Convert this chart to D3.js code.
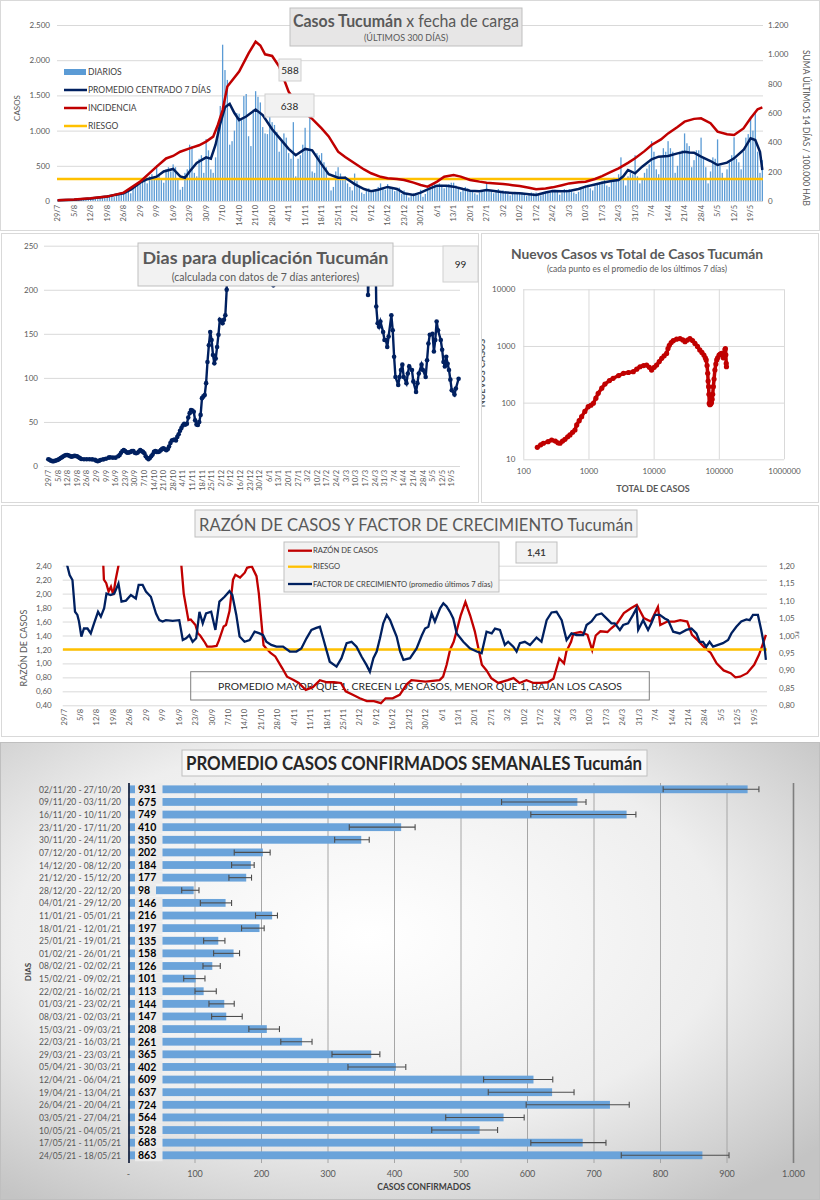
<!DOCTYPE html>
<html>
<head>
<meta charset="utf-8">
<script src="https://cdn.jsdelivr.net/npm/d3@7"></script>
<style>
  body { margin: 0; background: #fff; }
  svg text { font-family: Lato, "Open Sans", sans-serif; }
</style>
</head>
<body>
<svg id="chart" width="820" height="1200"></svg>
<script>
// ---------- data ----------
const nDays = 300; // 29/7/2020 .. 24/5/2021
const weekTicks = ['29/7','5/8','12/8','19/8','26/8','2/9','9/9','16/9','23/9','30/9','7/10','14/10','21/10','28/10',
  '4/11','11/11','18/11','25/11','2/12','9/12','16/12','23/12','30/12','6/1','13/1','20/1','27/1','3/2','10/2','17/2',
  '24/2','3/3','10/3','17/3','24/3','31/3','7/4','14/4','21/4','28/4','5/5','12/5','19/5'];

// daily cases (one value per day)
const dailyCases = [
  12,15,18,10,8,20,22, 25,30,20,15,28,35,30, 40,45,35,25,50,55,48, 60,75,80,55,70,90,85,
  100,120,150,110,180,230,250, 280,300,330,250,350,380,340, 510,380,300,260,450,480,420,
  520,480,300,160,200,400,450, 800,780,400,350,600,650,400, 880,720,450,400,620,1100,1350,
  2220,1860,1720,800,850,1000,1250, 1240,1150,1490,1520,920,780,1300, 1560,1480,1400,1050,960,950,1200,
  1120,1080,980,700,850,960,900, 680,600,1120,350,600,650,800, 1040,720,1200,420,400,680,650,
  680,550,480,300,150,200,420, 480,390,300,350,250,200,150, 390,280,200,120,100,160,180,
  120,150,170,200,250,180,160, 240,200,180,140,160,190,100, 150,90,50,80,110,100,90,
  160,60,100,150,200,230,250, 200,250,230,180,220,240,260, 260,220,180,130,160,200,180,
  130,150,110,90,120,150,140, 250,160,130,110,150,170,140, 150,140,100,80,110,130,120,
  110,120,90,70,100,120,110, 120,100,80,110,130,140,120, 150,160,140,90,120,170,160,
  170,150,120,100,130,180,190, 220,230,180,150,210,250,240, 280,300,220,200,310,330,300,
  380,620,300,220,350,400,380, 650,350,250,300,400,460,520, 850,700,450,380,620,750,700,
  850,750,700,400,500,700,720, 960,820,780,480,580,720,720, 900,600,480,250,420,620,600,
  875,500,400,300,450,550,650, 905,600,550,450,700,900,950, 1190,1000,1255,700,400,580
];
// 7-day centred average [day, cases]
const avg7 = [[0,10],[7,18],[14,35],[21,65],[28,110],[31,160],[35,260],[38,310],[42,345],[45,420],[49,455],[52,350],
  [54,330],[56,420],[59,540],[63,620],[65,600],[67,800],[69,1100],[71,1330],[73,1380],[75,1250],[77,1150],[80,1200],
  [84,1300],[87,1220],[91,1020],[94,900],[98,740],[101,650],[105,740],[108,720],[112,520],[115,380],[119,330],[122,330],
  [126,240],[130,170],[133,140],[136,160],[140,200],[144,170],[147,110],[151,85],[154,118],[158,180],[161,218],[165,215],
  [168,204],[172,170],[175,147],[179,140],[182,156],[186,140],[189,123],[193,115],[196,109],[200,95],[203,85],[207,120],
  [210,142],[214,140],[217,142],[221,170],[224,204],[228,235],[231,260],[235,285],[238,298],[240,350],[242,440],[245,393],
  [248,488],[252,592],[255,630],[259,640],[263,677],[266,700],[268,690],[270,686],[273,630],[277,568],[280,511],[284,545],
  [287,606],[291,724],[294,890],[296,866],[298,700],[299,440]];
// incidence, sum of last 14 days per 100.000 inhabitants [day, value]
const incidence = [[0,5],[7,10],[14,18],[21,30],[28,57],[35,132],[42,234],[46,290],[49,307],[52,336],[56,359],[60,380],
  [63,405],[66,439],[68,520],[70,620],[72,780],[77,882],[81,1007],[84,1086],[86,1060],[88,1000],[91,989],[94,916],[98,745],
  [101,677],[105,598],[108,560],[112,495],[115,440],[119,336],[122,300],[126,257],[130,215],[133,189],[137,165],[140,155],
  [144,150],[147,143],[151,125],[154,109],[157,98],[161,132],[164,166],[168,177],[171,166],[175,143],[179,132],[182,125],
  [186,120],[189,116],[193,108],[196,102],[200,90],[203,80],[207,86],[210,93],[214,108],[217,120],[221,128],[224,132],
  [228,150],[231,170],[235,200],[238,223],[242,260],[245,291],[249,340],[252,382],[256,420],[259,461],[263,505],[266,541],
  [270,560],[273,564],[277,530],[280,473],[284,455],[287,450],[291,495],[294,564],[297,625],[299,638]];
const riesgoIncidence = 150;

// doubling time in days [day, value]
const doubling = [[0,7.6],[1,7],[2,6],[3,5.5],[4,5.5],[5,6],[6,6.5],[7,7],[8,8],[9,9],[10,10],[11,11],[12,12],[13,12.5],
  [14,12.5],[15,12],[16,11],[17,10.6],[18,11],[19,11.5],[20,11.3],[21,11],[22,10],[23,9],[24,8],[26,7.6],[28,7.6],[30,7.6],
  [32,7.5],[34,7],[35,6],[36,5.5],[37,6],[38,6.8],[40,7.5],[42,8.3],[44,9.5],[45,9.8],[47,9.5],[49,9.5],[51,11],[52,12.5],
  [53,15],[54,17],[55,18],[56,17],[57,15.5],[58,15],[59,15.5],[60,16],[61,17],[62,17],[63,15],[64,14.4],[65,15],[66,16.5],
  [67,18],[68,17],[69,16],[70,14.4],[71,11],[72,9],[73,7.6],[74,9],[75,11],[76,13],[77,16],[78,17],[79,16],[80,16],
  [81,16.5],[82,18],[83,19.5],[84,20],[85,19],[86,18],[87,19],[88,22],[89,26],[90,29],[91,29.5],[92,30],[93,29],[94,33],
  [95,36],[96,40],[97,43],[98,46],[99,48],[100,47],[101,48],[102,55],[103,60],[104,63.5],[105,63],[106,61.6],[107,52],
  [108,47],[109,46.5],[110,50],[111,58],[112,77],[113,79],[114,80.6],[115,94],[116,118],[117,137],[118,152],[119,143],
  [120,126],[121,116.5],[122,122],[123,135],[124,149],[125,166],[126,164],[127,162],[128,166],[129,171],[130,200],
  [131,300],[163,300],[164,205],[165,300],[232,300],[233,194],[236,300],[238,300],[239,181],[240,162],[241,158],[242,164],
  [244,152],[245,143],[246,143],[247,135],[248,147],[250,171],[251,154],[252,124],[253,101],[255,92],[256,101],[257,109],
  [258,115],[259,101],[261,94],[262,105],[263,113],[265,109],[266,96],[268,84],[269,94],[270,105],[272,115],[273,109],
  [275,101],[276,120],[277,139],[278,149],[280,150],[281,130],[282,143],[283,164],[284,154],[286,143],[287,132],[288,118],
  [289,113],[290,124],[291,116],[292,109],[293,98],[294,86],[296,81],[297,88],[299,99]];

// new cases (7-day mean) vs total cases
const totalCases = [164,185,203,240,272,310,340,366,400,436,480,520,570,620,660,720,785,880,990,1090,1186,1300,1410,
  1600,1790,2100,2390,2900,3440,4100,4870,5500,6180,7000,7800,8600,9300,10200,11100,12200,13300,14500,15800,16600,
  17400,18600,20000,22500,25400,28000,30300,33000,36000,39500,43000,47000,51000,55000,59000,62000,64000,66000,67500,
  68500,69700,70500,71300,73000,75000,77000,79000,80500,82400,84500,87000,90000,92800,96000,100800,105000,110000,
  114000,117000,120000,124000,126000,128000,130000,131000];
const newCases = [16.3,18,19.2,20.5,21.9,21,19.5,19.2,21,22.5,25,26.9,30,32.9,40.4,48,56.6,70,85,90,97.6,120,146,
  180,213,245,269,300,329,340,352,390,430,450,460,420,376,420,460,530,605,670,740,900,
  1030,1150,1240,1320,1350,1280,1190,1270,1350,1250,1110,980,850,770,690,620,567,450,330,
  240,191,140,97,92,95,100,115,140,191,260,375,480,567,620,690,720,740,
  700,617,700,850,900,700,492,430];

// case ratio (left axis) and growth factor (right axis) [day, value]
const razon = [[0,3],[16,3],[17,2.2],[18,2.15],[19,2.03],[20,2.1],[21,1.98],[22,2.2],[23.5,2.45],[25,3],[49,3],[50,2.4],
  [51,2.0],[53,1.62],[54,1.63],[56,1.55],[57,1.43],[58,1.4],[60,1.3],[61,1.24],[63,1.24],[65,1.25],[66,1.33],[68,1.53],
  [69,1.55],[70.5,1.75],[72,2.2],[73,2.27],[75,2.23],[77,2.3],[78,2.37],[80,2.39],[82,2.25],[83,2.0],[85,1.26],[86,1.22],
  [88,1.15],[90,1.1],[93,0.93],[95,0.81],[98,0.76],[100,0.72],[103,0.62],[106,0.66],[109,0.76],[112,0.73],[115,0.73],
  [118,0.72],[120,0.6],[123,0.55],[126,0.5],[129,0.46],[132,0.46],[135,0.43],[137,0.5],[140,0.5],[143,0.55],[146,0.7],
  [148,0.76],[154,0.74],[160,0.76],[161.5,0.81],[163,0.98],[164.5,1.2],[166,1.31],[167,1.43],[169,1.69],[171,1.88],
  [173,1.69],[175,1.46],[176.5,1.22],[178,0.98],[180,0.9],[182,0.79],[185,0.72],[189,0.76],[191.5,0.79],[194,0.72],
  [197,0.76],[200,0.72],[203,0.72],[206,0.73],[208.5,0.78],[211,1.07],[213,1.0],[214,1.17],[216,1.31],[217,1.43],
  [220,1.45],[223,1.41],[225,1.19],[226.5,1.4],[228.5,1.46],[231.5,1.45],[233,1.5],[235.5,1.57],[238.5,1.72],
  [241.5,1.79],[244,1.84],[247,1.65],[250,1.6],[253,1.81],[254,1.55],[257,1.6],[260,1.6],[262.5,1.62],[265.5,1.6],
  [267.5,1.41],[270,1.33],[272.5,1.24],[275.5,1.15],[278,1.0],[281,0.9],[284,0.86],[286,0.8],[288,0.81],[291,0.86],
  [294,0.98],[296,1.12],[297.5,1.26],[299,1.41]];
const factor = [[0,1.25],[1.4,1.2],[2.4,1.173],[3.6,1.159],[4.7,1.068],[5.7,1.059],[6.4,1.04],[7.4,0.997],[8.5,1.02],
  [10,1.02],[11.4,1.006],[12.8,1.035],[14.5,1.068],[15.7,1.054],[17.1,1.078],[18.1,1.12],[19.9,1.116],[21.4,1.12],
  [23.2,1.149],[24.5,1.097],[26.4,1.1],[28.5,1.116],[30.6,1.106],[31.8,1.145],[33.5,1.145],[34.9,1.126],[37,1.111],
  [39.2,1.063],[40.6,1.044],[42,1.04],[43.4,1.044],[46.3,1.042],[49.1,1.044],[50.6,0.987],[52,0.992],[53.4,1.001],
  [54.8,0.982],[56.3,0.992],[57.7,1.068],[59.1,1.035],[60.5,1.063],[62.7,1.068],[64.5,1.016],[66.2,1.097],[68.4,1.111],
  [70.5,1.127],[71.7,1.116],[73.4,1.059],[74.8,0.997],[76.9,0.982],[79.1,0.987],[81.2,1.011],[83.3,1.006],[84.8,1.001],
  [86.2,0.982],[88.3,0.973],[90.5,0.968],[93.3,0.968],[96.2,0.954],[99,0.954],[101.1,0.963],[103.3,0.992],[105.4,1.016],
  [107.5,1.022],[109,1.025],[110.4,0.992],[111.8,0.958],[113.2,0.925],[116.1,0.911],[118.2,0.935],[120.4,0.978],
  [122.5,0.982],[124.6,0.968],[126.8,0.939],[128.9,0.915],[130.3,0.896],[131.8,0.935],[133.2,0.954],[134.6,0.992],
  [136,1.035],[137.5,1.059],[138.9,1.044],[140.3,1.02],[141.7,0.997],[143.2,0.954],[144.6,0.93],[147.4,0.935],
  [150.2,0.963],[152.4,1.0],[153.8,1.02],[155.2,1.025],[156.6,1.063],[158,1.04],[160.2,1.078],[161.6,1.092],[163,1.083],
  [164.4,1.068],[165.8,1.049],[167.3,1.006],[170.1,0.982],[172.9,0.963],[175.8,0.954],[177.9,0.949],[180,1.011],
  [182.2,1.006],[183.6,1.02],[185.7,1.016],[187.8,0.973],[189.2,0.982],[191.4,0.968],[192.8,0.954],[194.2,0.978],
  [196.3,0.982],[198.5,0.973],[201.3,0.994],[203.4,0.982],[205.6,1.044],[207.7,1.066],[209.8,1.068],[212,1.044],
  [214.1,0.987],[216.2,1.006],[218.3,1.001],[221.2,1.001],[222.6,1.03],[224.7,1.04],[226.8,1.059],[229,1.063],
  [231.1,1.049],[233.2,1.035],[234.6,1.035],[236.8,1.016],[238.2,1.03],[240.3,1.035],[242.4,1.059],[243.9,1.078],
  [244.6,1.016],[246.7,1.044],[248.8,1.016],[250.2,1.035],[251.7,1.059],[253.8,1.059],[255.9,1.049],[257.3,1.044],
  [259.5,1.011],[262.3,1.006],[265.1,1.016],[267.3,1.02],[269.4,1.006],[270.8,0.982],[272.2,0.982],[273.6,0.968],
  [275,0.982],[276.5,0.968],[278.6,0.973],[280.7,0.978],[282.9,0.987],[284.3,1.006],[286.4,1.025],[288.5,1.04],
  [290.7,1.046],[292.1,1.044],[293.5,1.059],[295.6,1.059],[297,1.016],[298.5,0.963],[299,0.93]];
const riesgoRazon = 1.2;

// weekly mean of confirmed cases
const weeks = ['02/11/20 - 27/10/20','09/11/20 - 03/11/20','16/11/20 - 10/11/20','23/11/20 - 17/11/20','30/11/20 - 24/11/20',
  '07/12/20 - 01/12/20','14/12/20 - 08/12/20','21/12/20 - 15/12/20','28/12/20 - 22/12/20','04/01/21 - 29/12/20',
  '11/01/21 - 05/01/21','18/01/21 - 12/01/21','25/01/21 - 19/01/21','01/02/21 - 26/01/21','08/02/21 - 02/02/21',
  '15/02/21 - 09/02/21','22/02/21 - 16/02/21','01/03/21 - 23/02/21','08/03/21 - 02/03/21','15/03/21 - 09/03/21',
  '22/03/21 - 16/03/21','29/03/21 - 23/03/21','05/04/21 - 30/03/21','12/04/21 - 06/04/21','19/04/21 - 13/04/21',
  '26/04/21 - 20/04/21','03/05/21 - 27/04/21','10/05/21 - 04/05/21','17/05/21 - 11/05/21','24/05/21 - 18/05/21'];
const weekMean = [931,675,749,410,350,202,184,177,98,146,216,197,135,158,126,101,113,144,147,208,261,365,402,609,637,724,564,528,683,863];
const weekLow  = [804,561,605,332,310,159,155,151,80,108,191,170,113,128,112,83,100,121,125,181,229,306,330,534,541,598,477,456,605,741];
const weekHigh = [948,688,763,431,362,213,189,185,106,155,224,204,145,167,138,115,132,159,171,227,276,378,417,638,670,753,595,555,718,903];

// ---------- helpers ----------
const svg = d3.select('#chart');
const es = d3.formatLocale({ decimal: ',', thousands: '.', grouping: [3], currency: ['$', ''] });
const fInt = es.format(',');
const fDec = es.format('.2f');
const GRID = '#d9d9d9', TXT = '#595959';
const NAVY = '#002060', RED = '#c00000', GOLD = '#ffc000', BLUE = '#5b9bd5';
const FONT = 'Lato, "Open Sans", sans-serif';
const defs = svg.append('defs');

function frame(x, y, w, h) {
  svg.append('rect').attr('x', x).attr('y', y).attr('width', w).attr('height', h)
    .attr('fill', '#fff').attr('stroke', '#d9d9d9');
}
function text(g, x, y, s, size, opts = {}) {
  const t = g.append('text').attr('x', x).attr('y', y).text(s)
    .attr('font-size', size).attr('fill', opts.fill || TXT)
    .attr('text-anchor', opts.anchor || 'start')
    .attr('font-weight', opts.weight || 'normal');
  if (opts.len) t.attr('textLength', opts.len).attr('lengthAdjust', 'spacingAndGlyphs');
  return t;
}
function vtext(g, x, y, s, size, rot, opts = {}) {
  return g.append('text').attr('transform', `translate(${x},${y}) rotate(${rot})`).text(s)
    .attr('font-size', size).attr('fill', opts.fill || TXT)
    .attr('text-anchor', opts.anchor || 'middle')
    .attr('font-weight', opts.weight || 'normal')
    .attr('dy', opts.dy || '0.35em');
}
function box(g, x, y, w, h, fill, stroke) {
  g.append('rect').attr('x', x).attr('y', y).attr('width', w).attr('height', h)
    .attr('fill', fill).attr('stroke', stroke || '#bfbfbf');
}
function styleAxis(a, size) {
  a.attr('font-family', FONT);
  a.select('.domain').remove();
  a.selectAll('.tick line').attr('stroke', GRID);
  a.selectAll('.tick text').attr('fill', TXT).attr('font-size', size);
}
function dateLabels(g, xPos, y, size) {
  weekTicks.forEach((t, i) => {
    vtext(g, xPos(i * 7), y, t, size, -90, { anchor: 'end' });
  });
}
function clip(id, x, y, w, h) {
  defs.append('clipPath').attr('id', id).append('rect')
    .attr('x', x).attr('y', y).attr('width', w).attr('height', h);
}

// ---------- panel 1: daily cases ----------
frame(0.5, 0.5, 819, 230);
const g1 = svg.append('g');
const x1 = d3.scaleBand().domain(d3.range(nDays)).range([57, 763]).paddingInner(0.45);
const xc1 = d => x1(d) + x1.bandwidth() / 2;
const xl1 = d3.scaleLinear().domain([0, nDays - 1]).range([xc1(0), xc1(nDays - 1)]);
const y1 = d3.scaleLinear().domain([0, 2500]).range([201, 25]);
const y1r = d3.scaleLinear().domain([0, 1200]).range([201, 25]);

g1.append('g').attr('transform', 'translate(57,0)')
  .call(d3.axisLeft(y1).tickValues(d3.range(0, 2501, 500)).tickSize(-706).tickPadding(7).tickFormat(fInt))
  .call(a => styleAxis(a, 8));
g1.append('g').attr('transform', 'translate(763,0)')
  .call(d3.axisRight(y1r).tickValues(d3.range(0, 1201, 200)).tickSize(0).tickPadding(5).tickFormat(fInt))
  .call(a => styleAxis(a, 8));

g1.append('g').selectAll('rect').data(dailyCases).join('rect')
  .attr('x', (d, i) => x1(i)).attr('width', x1.bandwidth())
  .attr('y', d => y1(d)).attr('height', d => y1(0) - y1(d))
  .attr('fill', BLUE);

g1.append('line').attr('x1', 57).attr('x2', 763)
  .attr('y1', y1r(riesgoIncidence)).attr('y2', y1r(riesgoIncidence))
  .attr('stroke', GOLD).attr('stroke-width', 2.5);
g1.append('path').datum(avg7)
  .attr('d', d3.line().x(d => xl1(d[0])).y(d => y1(d[1])))
  .attr('fill', 'none').attr('stroke', NAVY).attr('stroke-width', 2.5);
g1.append('path').datum(incidence)
  .attr('d', d3.line().x(d => xl1(d[0])).y(d => y1r(d[1])))
  .attr('fill', 'none').attr('stroke', RED).attr('stroke-width', 2.5);

dateLabels(g1, xl1, 205, 7.5);
vtext(g1, 17, 108, 'CASOS', 8, -90);
vtext(g1, 806, 128, 'SUMA  ÚLTIMOS 14 DÍAS / 100.000 HAB', 8.5, 90);

box(g1, 290, 8, 232, 38, '#e7e6e6');
const t1 = text(g1, 406, 26.5, '', 16.5, { anchor: 'middle', len: 226 });
t1.append('tspan').attr('font-weight', 'bold').text('Casos Tucumán');
t1.append('tspan').text(' x fecha de carga');
text(g1, 406, 41, '(ÚLTIMOS 300 DÍAS)', 9, { anchor: 'middle' });

const leg1 = [
  { name: 'DIARIOS', color: BLUE, bar: true },
  { name: 'PROMEDIO CENTRADO 7 DÍAS', color: NAVY },
  { name: 'INCIDENCIA', color: RED },
  { name: 'RIESGO', color: GOLD }
];
leg1.forEach((l, i) => {
  const y = 72 + i * 18;
  if (l.bar) g1.append('rect').attr('x', 64).attr('y', y - 3).attr('width', 22).attr('height', 6).attr('fill', l.color);
  else g1.append('line').attr('x1', 64).attr('x2', 87).attr('y1', y).attr('y2', y).attr('stroke', l.color).attr('stroke-width', 2.5);
  text(g1, 88, y + 3, l.name, 8.5, { fill: '#404040' });
});
box(g1, 279, 59, 22, 22, '#f2f2f2', '#d0d0d0');
text(g1, 290, 74, '588', 10, { anchor: 'middle', fill: '#262626' });
box(g1, 265, 94, 49, 23, '#f2f2f2', '#d0d0d0');
text(g1, 289.5, 109.5, '638', 10, { anchor: 'middle', fill: '#262626' });

// ---------- panel 2: doubling days ----------
frame(1.5, 233.5, 477, 269);
const g2 = svg.append('g');
const x2 = d3.scaleLinear().domain([0, nDays - 1]).range([48.3, 458.6]);
const y2 = d3.scaleLinear().domain([0, 250]).range([466, 245.7]);
g2.append('g').attr('transform', 'translate(44,0)')
  .call(d3.axisLeft(y2).tickValues(d3.range(0, 251, 50)).tickSize(-416).tickPadding(6))
  .call(a => styleAxis(a, 8));
clip('clip2', 40, 245.7, 424, 226);
const g2p = g2.append('g').attr('clip-path', 'url(#clip2)');
g2p.append('path').datum(doubling)
  .attr('d', d3.line().x(d => x2(d[0])).y(d => y2(d[1])))
  .attr('fill', 'none').attr('stroke', NAVY).attr('stroke-width', 2.4);
g2p.selectAll('circle').data(doubling.filter(d => d[1] <= 250)).join('circle')
  .attr('cx', d => x2(d[0])).attr('cy', d => y2(d[1])).attr('r', 2.3).attr('fill', NAVY);
dateLabels(g2, x2, 470, 7.5);
box(g2, 138, 243, 255, 43, '#f2f2f2');
text(g2, 265.5, 264, 'Dias para duplicación Tucumán', 17.5, { anchor: 'middle', weight: 'bold', len: 246 });
text(g2, 265.5, 280.5, '(calculada con datos de 7 días anteriores)', 10.5, { anchor: 'middle' });
box(g2, 443, 246, 35, 36, '#f2f2f2', '#d0d0d0');
text(g2, 460.5, 267.5, '99', 10, { anchor: 'middle', fill: '#262626' });

// ---------- panel 3: new vs total (log-log) ----------
frame(481.5, 233.5, 337, 269);
clip('clip3', 482, 234, 336, 268);
const g3 = svg.append('g').attr('clip-path', 'url(#clip3)');
const x3 = d3.scaleLog().domain([100, 1e6]).range([523.3, 784]);
const y3 = d3.scaleLog().domain([10, 1e4]).range([459.3, 289.3]);
const xDec = [100, 1000, 10000, 100000, 1000000], yDec = [10, 100, 1000, 10000];
g3.append('g').attr('transform', 'translate(0,459.3)')
  .call(d3.axisBottom(x3).tickValues(xDec).tickSize(-170).tickPadding(9).tickFormat(d3.format('d')))
  .call(a => styleAxis(a, 8));
g3.append('g').attr('transform', 'translate(523.3,0)')
  .call(d3.axisLeft(y3).tickValues(yDec).tickSize(-260.7).tickPadding(8).tickFormat(d3.format('d')))
  .call(a => styleAxis(a, 8));
const pts3 = totalCases.map((t, i) => [t, newCases[i]]);
g3.append('path').datum(pts3)
  .attr('d', d3.line().x(d => x3(d[0])).y(d => y3(d[1])))
  .attr('fill', 'none').attr('stroke', RED).attr('stroke-width', 3.5).attr('stroke-linejoin', 'round');
g3.selectAll('circle').data(pts3).join('circle')
  .attr('cx', d => x3(d[0])).attr('cy', d => y3(d[1])).attr('r', 2.6).attr('fill', RED);
text(g3, 637, 259, 'Nuevos Casos vs Total de Casos Tucumán', 13.5, { anchor: 'middle', weight: 'bold', len: 252 });
text(g3, 637, 272, '(cada punto es el promedio de los últimos 7 días)', 8.5, { anchor: 'middle' });
text(g3, 653, 492, 'TOTAL DE CASOS', 9, { anchor: 'middle', weight: 'bold' });
vtext(g3, 482, 373, 'NUEVOS CASOS', 9, -90, { weight: 'bold' });

// ---------- panel 4: case ratio and growth factor ----------
frame(1.5, 505.5, 817, 231);
const g4 = svg.append('g');
const x4 = d3.scaleLinear().domain([0, nDays - 1]).range([64, 765.9]);
const y4 = d3.scaleLinear().domain([0.4, 2.4]).range([705.3, 565.7]);
const y4r = d3.scaleLinear().domain([0.8, 1.2]).range([705.3, 565.7]);
g4.append('g').attr('transform', 'translate(62.7,0)')
  .call(d3.axisLeft(y4).tickValues(d3.range(0.4, 2.41, 0.2)).tickSize(-704.3).tickPadding(11).tickFormat(fDec))
  .call(a => styleAxis(a, 8));
g4.append('g').attr('transform', 'translate(767,0)')
  .call(d3.axisRight(y4r).tickValues(d3.range(0.8, 1.201, 0.05)).tickSize(0).tickPadding(12).tickFormat(fDec))
  .call(a => styleAxis(a, 8));
dateLabels(g4, x4, 709, 7.5);
vtext(g4, 24, 648, 'RAZÓN DE CASOS', 9, -90);
vtext(g4, 797, 635, 'FC', 6, 90);

box(g4, 190.7, 671.7, 458.6, 28.3, 'none', '#7f7f7f');
text(g4, 420, 690, 'PROMEDIO MAYOR QUE 1, CRECEN LOS CASOS, MENOR QUE 1, BAJAN LOS CASOS', 10, { anchor: 'middle', fill: '#262626', len: 404 });

clip('clip4', 62.7, 565.7, 704.3, 139.6);
const g4p = g4.append('g').attr('clip-path', 'url(#clip4)');
g4p.append('path').datum(razon)
  .attr('d', d3.line().x(d => x4(d[0])).y(d => y4(d[1])))
  .attr('fill', 'none').attr('stroke', RED).attr('stroke-width', 2.3);
g4p.append('line').attr('x1', 62.7).attr('x2', 767)
  .attr('y1', y4(riesgoRazon)).attr('y2', y4(riesgoRazon))
  .attr('stroke', GOLD).attr('stroke-width', 2.5);
g4p.append('path').datum(factor)
  .attr('d', d3.line().x(d => x4(d[0])).y(d => y4r(d[1])))
  .attr('fill', 'none').attr('stroke', NAVY).attr('stroke-width', 2.3);

box(g4, 195, 510, 442, 27, '#f2f2f2');
text(g4, 416, 530.5, 'RAZÓN DE CASOS Y FACTOR DE CRECIMIENTO Tucumán', 17.5, { anchor: 'middle', len: 434 });
box(g4, 284, 542, 215, 50, '#f2f2f2');
const leg4 = [
  { name: 'RAZÓN DE CASOS', color: RED, y: 550.7 },
  { name: 'RIESGO', color: GOLD, y: 566.7 },
  { name: 'FACTOR DE CRECIMIENTO (promedio últimos 7 días)', color: NAVY, y: 584 }
];
leg4.forEach(l => {
  g4.append('line').attr('x1', 288).attr('x2', 312).attr('y1', l.y).attr('y2', l.y)
    .attr('stroke', l.color).attr('stroke-width', 2.3);
  text(g4, 313, l.y + 2.5, l.name, 7.6, { fill: '#404040' });
});
box(g4, 516, 542, 41, 21, '#f2f2f2');
text(g4, 536.5, 556, '1,41', 9.5, { anchor: 'middle', weight: 'bold', fill: '#404040' });

// ---------- panel 5: weekly averages ----------
const rg = defs.append('radialGradient').attr('id', 'bg5').attr('cx', '45%').attr('cy', '42%').attr('r', '72%');
rg.append('stop').attr('offset', '0%').attr('stop-color', '#ffffff');
rg.append('stop').attr('offset', '60%').attr('stop-color', '#eeeeee');
rg.append('stop').attr('offset', '100%').attr('stop-color', '#c4c4c4');
svg.append('rect').attr('x', 0.5).attr('y', 742.5).attr('width', 819).attr('height', 457)
  .attr('fill', 'url(#bg5)').attr('stroke', '#bfbfbf');
const g5 = svg.append('g');
const x5 = d3.scaleLinear().domain([0, 1000]).range([128.5, 793.5]);
const y5 = d3.scaleBand().domain(weeks).range([783, 1161.6]).paddingInner(0.38).paddingOuter(0.19);
const xTicks5 = d3.range(100, 1001, 100);
g5.append('g').selectAll('line').data(xTicks5).join('line')
  .attr('x1', d => x5(d)).attr('x2', d => x5(d)).attr('y1', 783).attr('y2', 1163)
  .attr('stroke', d => d === 1000 ? '#7f7f7f' : '#a6a6a6').attr('stroke-width', d => d === 1000 ? 1.6 : 1);
g5.append('g').selectAll('rect').data(weekMean).join('rect')
  .attr('x', x5(0)).attr('y', (d, i) => y5(weeks[i]))
  .attr('width', d => x5(d) - x5(0)).attr('height', y5.bandwidth())
  .attr('fill', '#6aa3da');
const eb = g5.append('g').attr('stroke', '#4d4d4d').attr('stroke-width', 1.1);
weeks.forEach((w, i) => {
  const cy = y5(w) + y5.bandwidth() / 2;
  eb.append('line').attr('x1', x5(weekLow[i])).attr('x2', x5(weekHigh[i])).attr('y1', cy).attr('y2', cy);
  [weekLow[i], weekHigh[i]].forEach(v => {
    eb.append('line').attr('x1', x5(v)).attr('x2', x5(v)).attr('y1', cy - 3).attr('y2', cy + 3);
  });
});
// value labels and categories
weeks.forEach((w, i) => {
  const cy = y5(w) + y5.bandwidth() / 2;
  const s = String(weekMean[i]);
  g5.append('rect').attr('x', 135).attr('y', cy - 6).attr('width', 8 + s.length * 6.5).attr('height', 12)
    .attr('fill', '#ebebeb');
  text(g5, 138, cy + 3.8, s, 10.5, { weight: 'bold', fill: '#000' });
  text(g5, 121, cy + 3.5, w, 10, { anchor: 'end', len: 82 });
});
g5.append('line').attr('x1', 129).attr('x2', 129).attr('y1', 783).attr('y2', 1163)
  .attr('stroke', '#1f2a44').attr('stroke-width', 1.8);
[0].concat(xTicks5).forEach(v => {
  text(g5, x5(v), 1177, v === 0 ? '-' : fInt(v), 9, { anchor: 'middle' });
});
text(g5, 424, 1190, 'CASOS CONFIRMADOS', 8.5, { anchor: 'middle', weight: 'bold', fill: '#404040' });
vtext(g5, 28, 972, 'DIAS', 8, -90, { weight: 'bold', fill: '#404040' });
box(g5, 182, 750, 465, 26, '#f7f7f7');
text(g5, 414, 769.5, 'PROMEDIO CASOS CONFIRMADOS SEMANALES Tucumán', 18, { anchor: 'middle', weight: 'bold', fill: '#262626', len: 456 });
</script>
</body>
</html>
